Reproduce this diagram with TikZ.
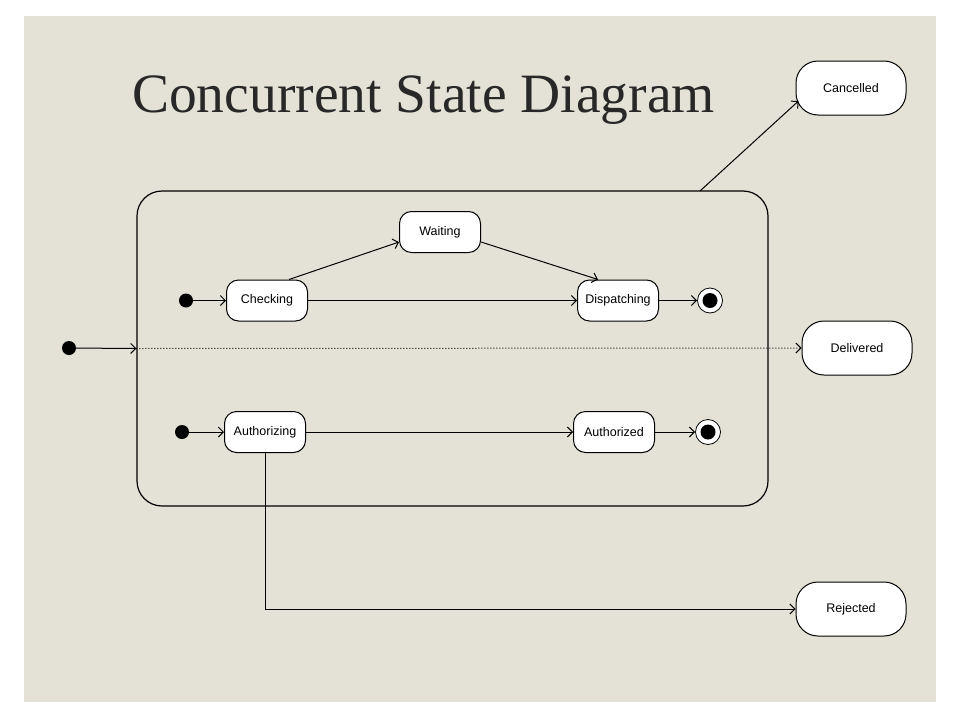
\documentclass[tikz,border=0pt]{standalone}
\usepackage{fontspec}
\setmainfont{Liberation Serif}
\setsansfont{Liberation Sans}
\usetikzlibrary{arrows.meta}
\definecolor{paper}{RGB}{228,226,214}
\definecolor{titlegray}{RGB}{40,40,40}

\begin{document}
\begin{tikzpicture}[
			x=1pt, y=-1pt,
			statenode/.style={draw=black, line width=1pt, fill=white, rounded corners=12pt, minimum width=81pt, minimum height=41pt, inner sep=2pt, font=\sffamily\fontsize{12.5}{14}\selectfont},
			bignode/.style={statenode, rounded corners=22pt, minimum width=110pt, minimum height=54pt},
			initnode/.style={circle, fill=black, inner sep=0pt, minimum size=14pt},
			finalnode/.style={circle, draw=black, line width=0.8pt, fill=white, inner sep=0pt, minimum size=25pt, path picture={\fill[black] (path picture bounding box.center) circle (7.5pt);}},
			trans/.style={line width=1pt, -{Straight Barb[length=5pt,width=10pt]}},
			]
			\useasboundingbox (0,0) rectangle (960,720);
			\fill[paper] (24,16) rectangle (936,702);
			
			%Title
			\node[anchor=base west, inner sep=0pt, font=\fontsize{55.5}{60}\selectfont, text=titlegray] (title) at (132,112) {Concurrent State Diagram};
			
			%Composite state
			\node[draw=black, line width=1.2pt, rounded corners=25pt, minimum width=631pt, minimum height=315pt] (order) at (452.5,348.5) {};
			\coordinate (ctop) at (700,191);
			
			%Nodes
			\node[initnode]      (init)      at 	(69,348)		{};
			\node[initnode]      (init1)     at 	(186,300.5)		{};
			\node[statenode]     (checking)  at 	(267,300.5)		{Checking};
			\node[statenode]     (waiting)   at 	(440,232)		{Waiting};
			\node[statenode]     (dispatching) at 	(618,300.5)		{Dispatching};
			\node[finalnode]     (final1)    at 	(710,300.5)		{};
			\node[initnode]      (init2)     at 	(182,432)		{};
			\node[statenode]     (authorizing) at 	(265,432)		{Authorizing};
			\node[statenode]     (authorized) at 	(614,432)		{Authorized};
			\node[finalnode]     (final2)    at 	(708,432)		{};
			\node[bignode]       (cancelled) at 	(851,88)		{Cancelled};
			\node[bignode]       (delivered) at 	(857,348)		{Delivered};
			\node[bignode]       (rejected)  at 	(851,609)		{Rejected};
			
			%Lines
			\draw[trans] (init) -- (order.west);
			\draw[trans, dotted] (order.west) -- (delivered.west);
			\draw[trans] (ctop) -- ([xshift=3pt,yshift=-13pt]cancelled.west);
			\draw[trans] (init1) -- (checking.west);
			\draw[trans] ([xshift=22pt]checking.north) -- ([yshift=-10pt]waiting.west);
			\draw[trans] ([yshift=-10pt]waiting.east) -- ([xshift=-20pt]dispatching.north);
			\draw[trans] (checking.east) -- (dispatching.west);
			\draw[trans] (dispatching.east) -- (final1.west);
			\draw[trans] (init2) -- (authorizing.west);
			\draw[trans] (authorizing.east) -- (authorized.west);
			\draw[trans] (authorized.east) -- (final2.west);
			\draw[trans] (authorizing.south) |- (rejected.west);
		\end{tikzpicture}
\end{document}
